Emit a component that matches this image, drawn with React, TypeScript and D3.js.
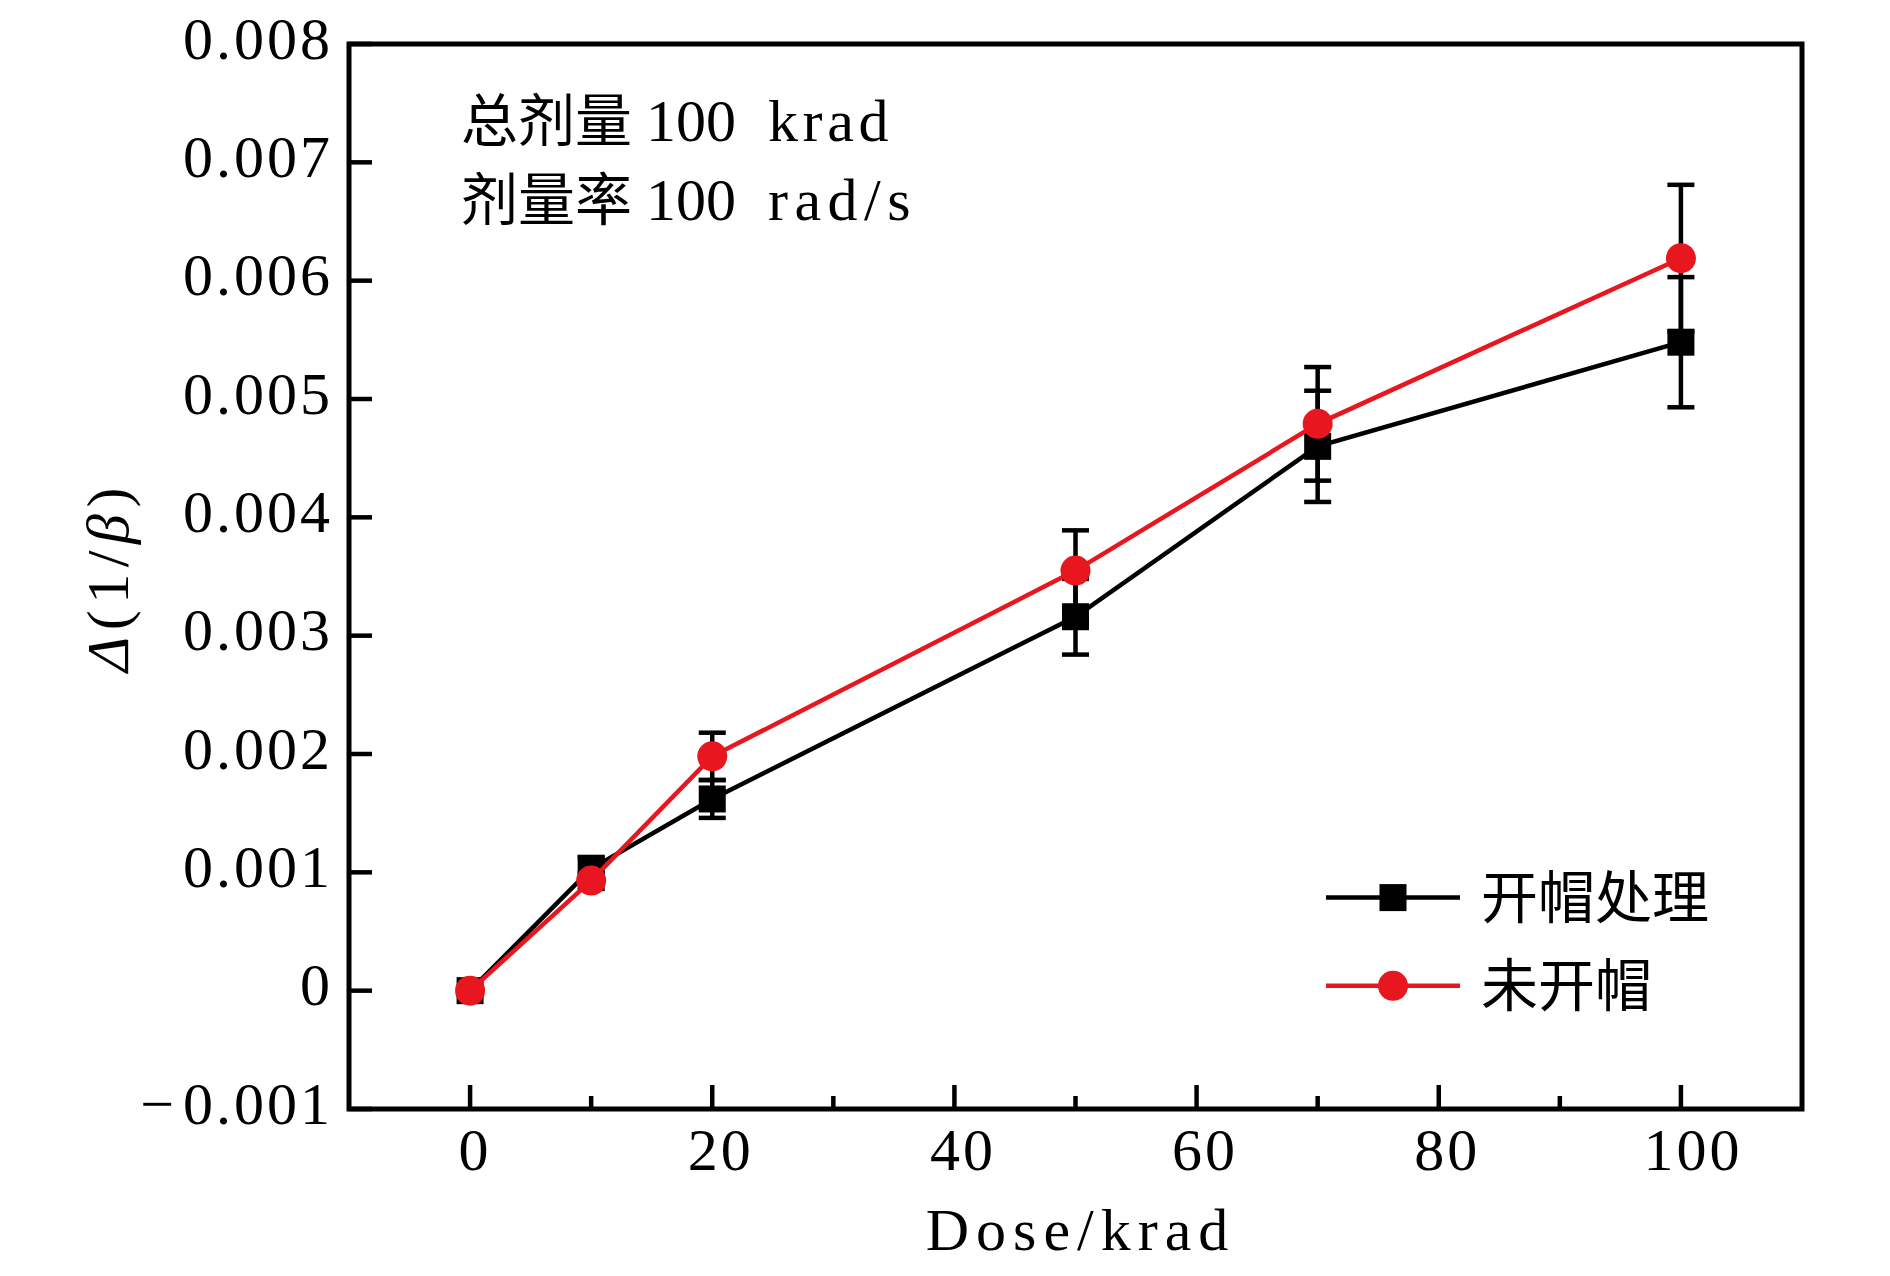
import React from 'react';
import * as d3 from 'd3';

// ---- data ----
const doses = [0, 10, 20, 50, 70, 100];
const openedValues = [0, 0.00103, 0.00162, 0.00316, 0.0046, 0.00548];
const openedErrors = [0, 0.0001, 0.00016, 0.00032, 0.00047, 0.00055];
const unopenedValues = [0, 0.00093, 0.00198, 0.00355, 0.00479, 0.00619];
const unopenedErrors = [0, 0.00007, 0.0002, 0.00034, 0.00048, 0.00062];
const seriesNames = ['开帽处理', '未开帽'];
const xTickValues = [0, 20, 40, 60, 80, 100];
const xMinorTickValues = [10, 30, 50, 70, 90];
const yTickValues = [-0.001, 0, 0.001, 0.002, 0.003, 0.004, 0.005, 0.006, 0.007, 0.008];
const yTickLabels = ['−0.001', '0', '0.001', '0.002', '0.003', '0.004', '0.005', '0.006', '0.007', '0.008'];
const noteCjk = ['总剂量', '剂量率'];
const noteNumber = ['100', '100'];
const noteUnit = ['krad', 'rad/s'];
const xAxisTitle = 'Dose/krad';

const W = 1890;
const H = 1276;
const L = 349, R = 1802, T = 44, B = 1109;
const SERIF = '"Liberation Serif", "Times New Roman", serif';
const CJK = '"Noto Sans CJK SC", "Noto Sans CJK JP", sans-serif';
const RED = '#e8171f';

export default function App() {
  const x = d3.scaleLinear().domain([-10, 110]).range([L, R]);
  const y = d3.scaleLinear().domain([-0.001, 0.008]).range([B, T]);
  const line = d3.line<[number, number]>().x(d => x(d[0])).y(d => y(d[1]));

  const opened = doses.map((d, i) => [d, openedValues[i]] as [number, number]);
  const unopened = doses.map((d, i) => [d, unopenedValues[i]] as [number, number]);

  const capW = 27;
  const errorBars = (vals: number[], errs: number[], key: string) =>
    doses.map((d, i) => {
      if (errs[i] <= 0) return null;
      const cx = x(d);
      const y1 = y(vals[i] + errs[i]);
      const y2 = y(vals[i] - errs[i]);
      return (
        <g key={key + i} stroke="#000" strokeWidth={4.5}>
          <line x1={cx} x2={cx} y1={y1} y2={y2} />
          <line x1={cx - capW / 2} x2={cx + capW / 2} y1={y1} y2={y1} />
          <line x1={cx - capW / 2} x2={cx + capW / 2} y1={y2} y2={y2} />
        </g>
      );
    });

  const sq = 27;
  const rad = 15;

  React.useEffect(() => {
    document.body.style.margin = '0';
  }, []);

  const renderYLabel = (s: string) => {
    if (s.startsWith('−')) {
      return (
        <>
          <tspan>−</tspan>
          <tspan dx={6}>{s.slice(1)}</tspan>
        </>
      );
    }
    return s;
  };

  return (
    <svg width={W} height={H} style={{ position: 'absolute', left: 0, top: 0, background: '#fff' }}>
      <rect x={0} y={0} width={W} height={H} fill="#fff" />

      {/* opened series (black) */}
      {errorBars(openedValues, openedErrors, 'eo')}
      <path d={line(opened) || ''} fill="none" stroke="#000" strokeWidth={4.5} />
      {opened.map((p, i) => (
        <rect key={'so' + i} x={x(p[0]) - sq / 2} y={y(p[1]) - sq / 2} width={sq} height={sq} fill="#000" />
      ))}

      {/* unopened series (red) */}
      {errorBars(unopenedValues, unopenedErrors, 'eu')}
      <path d={line(unopened) || ''} fill="none" stroke={RED} strokeWidth={4.5} />
      {unopened.map((p, i) => (
        <circle key={'cu' + i} cx={x(p[0])} cy={y(p[1])} r={rad} fill={RED} />
      ))}

      {/* ticks */}
      <g stroke="#000" strokeWidth={4.5}>
        {xTickValues.map(v => (
          <line key={'xt' + v} x1={x(v)} x2={x(v)} y1={B} y2={B - 24} />
        ))}
        {xMinorTickValues.map(v => (
          <line key={'xm' + v} x1={x(v)} x2={x(v)} y1={B} y2={B - 13} />
        ))}
        {yTickValues.map(v => (
          <line key={'yt' + v} x1={L} x2={L + 23} y1={y(v)} y2={y(v)} />
        ))}
      </g>

      {/* frame */}
      <rect x={L} y={T} width={R - L} height={B - T} fill="none" stroke="#000" strokeWidth={5} />

      {/* tick labels */}
      <g fontFamily={SERIF} fontSize={60} fill="#000" letterSpacing={3}>
        {xTickValues.map(v => (
          <text key={'xl' + v} x={x(v) + 3.5 * String(v).length + 1.5} y={B + 61} textAnchor="middle">
            {String(v)}
          </text>
        ))}
        {yTickValues.map((v, i) => (
          <text key={'yl' + v} x={333} y={y(v) + 14.5} textAnchor="end">
            {renderYLabel(yTickLabels[i])}
          </text>
        ))}
      </g>

      {/* axis titles */}
      <text x={(L + R) / 2 + 5} y={1250} textAnchor="middle" fontFamily={SERIF} fontSize={60} letterSpacing={7}>
        {xAxisTitle}
      </text>
      <text
        transform={`translate(128, ${(T + B) / 2}) rotate(-90)`}
        textAnchor="middle"
        fontFamily={SERIF}
        fontSize={60}
        letterSpacing={6.5}
      >
        <tspan fontStyle="italic">Δ</tspan>
        <tspan>(1/</tspan>
        <tspan fontStyle="italic">β</tspan>
        <tspan>)</tspan>
      </text>

      {/* annotation */}
      {noteCjk.map((c, i) => (
        <text key={'note' + i} x={461} y={141 + i * 78.5} fill="#000">
          <tspan fontFamily={CJK} fontSize={57}>{c}</tspan>
          <tspan fontFamily={SERIF} fontSize={60} dx={14}>{noteNumber[i]}</tspan>
          <tspan fontFamily={SERIF} fontSize={60} dx={32} letterSpacing={i === 0 ? 4.6 : 6.5}>{noteUnit[i]}</tspan>
        </text>
      ))}

      {/* legend */}
      <g>
        <line x1={1326} x2={1460} y1={897.6} y2={897.6} stroke="#000" strokeWidth={4.5} />
        <rect x={1393 - sq / 2} y={897.6 - sq / 2} width={sq} height={sq} fill="#000" />
        <text x={1481} y={918} fontFamily={CJK} fontSize={57}>{seriesNames[0]}</text>
        <line x1={1326} x2={1460} y1={985.8} y2={985.8} stroke={RED} strokeWidth={4.5} />
        <circle cx={1393} cy={985.8} r={rad} fill={RED} />
        <text x={1481} y={1006} fontFamily={CJK} fontSize={57}>{seriesNames[1]}</text>
      </g>
    </svg>
  );
}
